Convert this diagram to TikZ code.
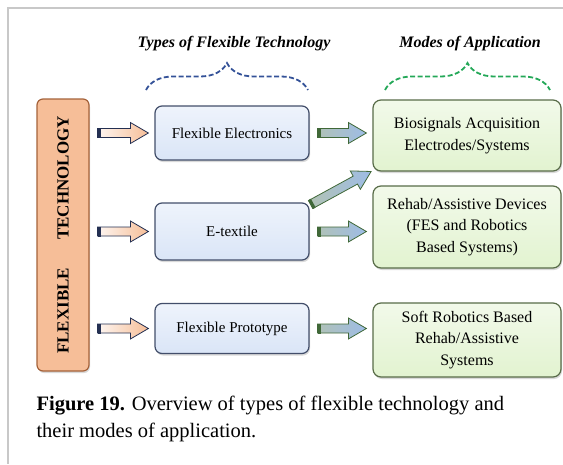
\documentclass[tikz,border=0pt]{standalone}
\usepackage{fontspec}
\setmainfont{Liberation Serif}
\usetikzlibrary{calc, positioning, shadows, decorations.pathreplacing}
\definecolor{framegray}{RGB}{200,200,200}
\definecolor{peach}{RGB}{246,190,152}
\definecolor{peachlight}{RGB}{252,220,196}
\definecolor{peachedge}{RGB}{165,98,58}
\definecolor{boxblue}{RGB}{218,229,247}
\definecolor{blueedge}{RGB}{66,78,106}
\definecolor{boxgreen}{RGB}{226,243,208}
\definecolor{greenedge}{RGB}{88,108,72}
\definecolor{navy}{RGB}{36,48,82}
\definecolor{arrowgreen}{RGB}{64,104,56}
\definecolor{arrowblue}{RGB}{158,188,230}
\definecolor{braceblue}{RGB}{52,82,152}
\definecolor{bracegreen}{RGB}{36,168,88}

\begin{document}
\begin{tikzpicture}[x=1pt, y=-1pt,
    techbox/.style={draw=peachedge, line width=1.2pt, rounded corners=6pt,
        left color=peach, middle color=peachlight, right color=peach,
        minimum width=52pt, minimum height=272pt, inner sep=0pt,
        font=\fontsize{17}{20}\selectfont\bfseries,
        drop shadow={shadow xshift=1pt, shadow yshift=-2pt, opacity=0.3}},
    typebox/.style={draw=blueedge, line width=1.2pt, rounded corners=7pt,
        top color=boxblue!45!white, bottom color=boxblue,
        minimum width=154pt, font=\fontsize{15}{18}\selectfont,
        drop shadow={shadow xshift=1pt, shadow yshift=-2pt, opacity=0.3}},
    modebox/.style={draw=greenedge, line width=1.2pt, rounded corners=8pt,
        top color=boxgreen!45!white, bottom color=boxgreen,
        minimum width=188pt, align=center, font=\fontsize{16}{21.5}\selectfont,
        drop shadow={shadow xshift=1pt, shadow yshift=-2pt, opacity=0.3}},
    headtext/.style={font=\fontsize{16}{19}\selectfont\bfseries\itshape, anchor=base},
    blockarrow/.style={to path={
        let \p1=($(\tikztostart)!8pt!(\tikztotarget)$),
            \p2=($(\tikztotarget)!6pt!(\tikztostart)$) in
        ($(\p1)!4.5pt!90:(\p2)$)
        -- ($(\p2)!18pt!(\p1)!4.5pt!-90:(\p1)$)
        -- ($(\p2)!18pt!(\p1)!10.5pt!-90:(\p1)$)
        -- (\p2)
        -- ($(\p2)!18pt!(\p1)!10.5pt!90:(\p1)$)
        -- ($(\p2)!18pt!(\p1)!4.5pt!90:(\p1)$)
        -- ($(\p1)!4.5pt!-90:(\p2)$)
        -- cycle}},
    arrowtail/.style={line width=3pt, to path={
        let \p1=($(\tikztostart)!9.5pt!(\tikztotarget)$) in
        ($(\p1)!5pt!90:(\tikztotarget)$) -- ($(\p1)!5pt!-90:(\tikztotarget)$)}},
    orangearrow/.style={blockarrow, draw=navy, line width=0.8pt,
        left color=white, right color=peach},
    greenarrow/.style={blockarrow, draw=arrowgreen, line width=0.8pt,
        left color=arrowgreen!40!white, right color=arrowblue},
    dashbrace/.style={line width=1.8pt, dash pattern=on 5pt off 2.5pt,
        decorate, decoration={brace, amplitude=27pt}}]

    \useasboundingbox (0,0) rectangle (563,464);

    % Frame
    \draw[framegray, line width=2pt] (563,8) -- (8,8) -- (8,464);

    % Headings and braces
    \node[headtext] (typestitle) at (234,47) {Types of Flexible Technology};
    \node[headtext] (modestitle) at (470,47) {Modes of Application};
    \draw[dashbrace, braceblue] (146,90) -- (308,90);
    \draw[dashbrace, bracegreen] (385,90) -- (550,90);

    % Flexible technology
    \node[techbox] (tech) at (63,235)
        {\rotatebox{90}{FLEXIBLE\hspace{28pt}TECHNOLOGY}};

    % Types
    \node[typebox, minimum height=54pt] (flexelec) at (232,133) {Flexible Electronics};
    \node[typebox, minimum height=57pt] (etextile) at (232,231.5) {E-textile};
    \node[typebox, minimum height=50pt] (flexproto) at (232,328.5) {Flexible Prototype};

    % Modes
    \node[modebox, minimum height=71pt] (biosig) at (467,135.5)
        {Biosignals Acquisition\\Electrodes/Systems};
    \node[modebox, minimum height=82pt] (rehab) at (467,227)
        {Rehab/Assistive Devices\\(FES and Robotics\\Based Systems)};
    \node[modebox, minimum height=74pt] (softrob) at (467,340)
        {Soft Robotics Based\\Rehab/Assistive\\Systems};

    % Arrows
    \foreach \t in {flexelec, etextile, flexproto} {
        \path[orangearrow] (tech.east |- \t.west) to (\t.west);
        \draw[arrowtail, navy] (tech.east |- \t.west) to (\t.west);
    }
    \foreach \s/\t in {flexelec/biosig, etextile/rehab, flexproto/softrob} {
        \path[greenarrow] (\s.east) to (\t.west |- \s.east);
        \draw[arrowtail, arrowgreen] (\s.east) to (\t.west |- \s.east);
    }
    \path[greenarrow] ($(etextile.north east)+(-6,6)$) to ($(biosig.south west)+(4,-3)$);
    \draw[arrowtail, arrowgreen] ($(etextile.north east)+(-6,6)$) to ($(biosig.south west)+(4,-3)$);

    % Caption
    \node[anchor=base west, align=left, font=\fontsize{20.5}{27}\selectfont] (caption) at (33,437)
        {\textbf{Figure 19.} Overview of types of flexible technology and\\their modes of application.};
\end{tikzpicture}
\end{document}
